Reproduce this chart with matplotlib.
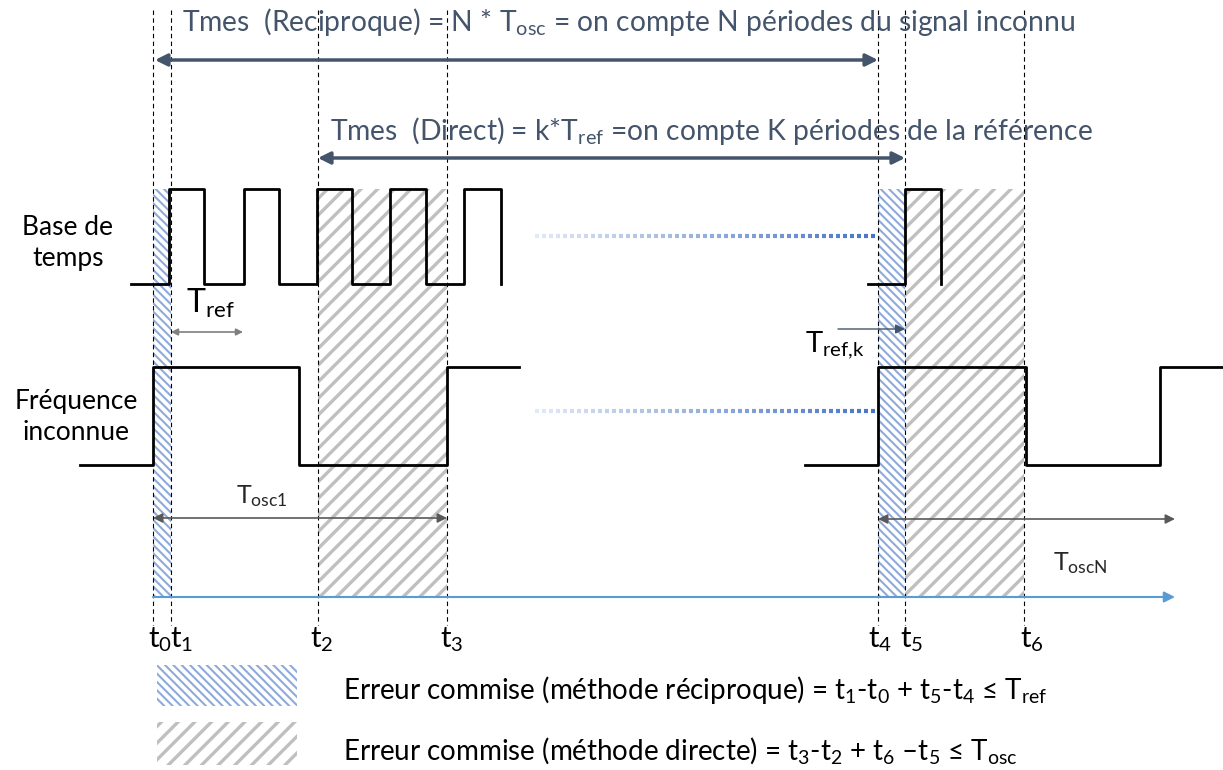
import numpy as np
import matplotlib
matplotlib.use("Agg")
from matplotlib import pyplot as plt
from matplotlib.patches import Rectangle

plt.rcParams['font.family'] = ['Lato', 'DejaVu Sans']
plt.rcParams['mathtext.fontset'] = 'custom'
plt.rcParams['mathtext.rm'] = 'Lato'
plt.rcParams['mathtext.default'] = 'regular'

# time instants (pixel x) and their labels
t_pos = [153, 171, 318, 447, 878, 905, 1024]
t_names = ['t$_0$', 't$_1$', 't$_2$', 't$_3$', 't$_4$', 't$_5$', 't$_6$']
t_label_x = [160, 182, 322, 452, 880, 912, 1032]

# reference clock (base de temps): edge x and logic level after each edge
ref_left_x = [131, 169, 204, 244, 279, 317, 352, 390, 426, 464, 501]
ref_left_lvl = [0, 1, 0, 1, 0, 1, 0, 1, 0, 1, 0]
ref_right_x = [868, 905, 941]
ref_right_lvl = [0, 1, 0]
ref_low, ref_high = 284, 189

# unknown frequency signal
sig_left_x = [80, 153, 299, 447, 519]
sig_left_lvl = [0, 1, 0, 1, 1]
sig_right_x = [805, 878, 1026, 1097, 1160, 1223]
sig_right_lvl = [0, 1, 0, 0, 1, 1]
sig_low, sig_high = 465, 367

# shaded error zones (x0, x1)
blue_zones = [(153, 171), (878, 905)]
gray_zones = [(318, 447), (905, 1024)]
zone_top, zone_bot = 189, 597

BLUE_H = '#8eaadb'
GRAY_H = '#bfbfbf'
SLATE = '#44546a'
DGRAY = '#595959'

fig = plt.figure(figsize=(12.23, 7.70), dpi=100)
ax = fig.add_axes([0, 0, 1, 1])
ax.set_xlim(0, 1223)
ax.set_ylim(770, 0)
ax.axis('off')


def hatch_rect(x0, y0, w, h, color, hatch, lw):
    r = Rectangle((x0, y0), w, h, facecolor='none', edgecolor=color,
                  hatch=hatch, linewidth=0)
    if hasattr(r, 'set_hatch_linewidth'):
        r.set_hatch_linewidth(lw)
    ax.add_patch(r)


plt.rcParams['hatch.linewidth'] = 2.4
for x0, x1 in gray_zones:
    hatch_rect(x0, zone_top, x1 - x0, zone_bot - zone_top, GRAY_H, '//', 2.4)
plt.rcParams['hatch.linewidth'] = 1.5
for x0, x1 in blue_zones:
    hatch_rect(x0, zone_top, x1 - x0, zone_bot - zone_top, BLUE_H, '\\\\\\\\', 1.5)

# dashed verticals
for x in t_pos:
    ax.plot([x, x], [10, 625], color='black', lw=0.8, ls=(0, (4, 3)))


def level(lv, lo, hi):
    return [hi if v else lo for v in lv]


ax.plot(ref_left_x, level(ref_left_lvl, ref_low, ref_high), drawstyle='steps-post', color='black', lw=2)
ax.plot(ref_right_x, level(ref_right_lvl, ref_low, ref_high), drawstyle='steps-post', color='black', lw=2)
ax.plot(sig_left_x, level(sig_left_lvl, sig_low, sig_high), drawstyle='steps-post', color='black', lw=2)
ax.plot(sig_right_x, level(sig_right_lvl, sig_low, sig_high), drawstyle='steps-post', color='black', lw=2)

# fading dotted continuation lines
for yy, xe in [(236, 878), (411, 872)]:
    xs = np.arange(535, xe, 7)
    for i, xx in enumerate(xs):
        a = 0.15 + 0.85 * i / len(xs)
        ax.plot([xx, xx + 3.5], [yy, yy], color='#4472c4', lw=3, alpha=a, solid_capstyle='butt')

# arrows
def arrow(x0, x1, y, style, color, lw, ms):
    ax.annotate('', xy=(x1, y), xytext=(x0, y),
                arrowprops=dict(arrowstyle=style, color=color, lw=lw,
                                mutation_scale=ms, shrinkA=0, shrinkB=0))


arrow(155, 878, 60, '<|-|>', SLATE, 2.5, 18)
arrow(318, 905, 158, '<|-|>', SLATE, 2.5, 18)
arrow(171, 243, 332, '<|-|>', '#7f7f7f', 1.2, 10)
arrow(838, 905, 329, '-|>', SLATE, 1.0, 14)
arrow(153, 447, 518, '<|-|>', DGRAY, 1.2, 14)
arrow(878, 1175, 519, '<|-|>', DGRAY, 1.2, 14)
arrow(153, 1175, 597, '-|>', '#5b9bd5', 1.5, 16)

# texts
ax.text(182, 22, 'Tmes  (Reciproque) = N * T$_{osc}$ = on compte N périodes du signal inconnu',
        color=SLATE, fontsize=20.3, va='center', ha='left')
ax.text(330, 131, 'Tmes  (Direct) = k*T$_{ref}$ =on compte K périodes de la référence',
        color=SLATE, fontsize=20.3, va='center', ha='left')
ax.text(68, 243, 'Base de\ntemps', fontsize=19, ha='center', va='center', linespacing=1.3)
ax.text(76, 417, 'Fréquence\ninconnue', fontsize=19, ha='center', va='center', linespacing=1.3)
ax.text(186, 303, 'T$_{ref}$', fontsize=23, ha='left', va='center')
ax.text(805, 345, 'T$_{ref{,}k}$', fontsize=21, ha='left', va='center')
ax.text(236, 496, 'T$_{osc1}$', fontsize=18, ha='left', va='center', color='#262626')
ax.text(1053, 563, 'T$_{oscN}$', fontsize=18, ha='left', va='center', color='#262626')
for x, s in zip(t_label_x, t_names):
    ax.text(x, 640, s, fontsize=21, ha='center', va='center')

# legend
hatch_rect(157, 665, 140, 41, BLUE_H, '\\\\\\\\', 1.5)
hatch_rect(157, 722, 140, 43, GRAY_H, '//', 2.4)
ax.text(343, 690, 'Erreur commise (méthode réciproque) = t$_1$-t$_0$ + t$_5$-t$_4$ ≤ T$_{ref}$',
        fontsize=20, ha='left', va='center')
ax.text(343, 750, 'Erreur commise (méthode directe) = t$_3$-t$_2$ + t$_6$ –t$_5$ ≤ T$_{osc}$',
        fontsize=20, ha='left', va='center')

fig.savefig('out.png', dpi=100)
